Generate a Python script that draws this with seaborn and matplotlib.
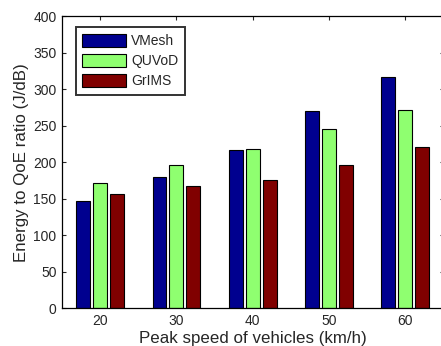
import matplotlib
matplotlib.use("Agg")
import matplotlib.pyplot as plt
import seaborn as sns
import pandas as pd

speeds = ["20", "30", "40", "50", "60"]
schemes = ["VMesh", "QUVoD", "GrIMS"]
vmesh = [147, 179, 216, 270, 317]
quvod = [172, 196, 218, 246, 271]
grims = [156, 167, 175, 196, 221]
colors = ["#00008F", "#8FFF70", "#800000"]

df = pd.DataFrame({
    "speed": speeds * 3,
    "scheme": [s for s in schemes for _ in speeds],
    "value": vmesh + quvod + grims,
})

sns.set_style("white")
plt.rcParams["font.family"] = ["Liberation Sans", "DejaVu Sans"]

fig = plt.figure(figsize=(4.41, 3.46), dpi=100)
ax = fig.add_axes([62 / 441, 1 - 308.3 / 346, (443.5 - 62) / 441, (308.3 - 16) / 346])

sns.barplot(data=df, x="speed", y="value", hue="scheme", order=speeds,
            hue_order=schemes, palette=colors, width=0.667, gap=0.18,
            edgecolor="black", linewidth=0.8, saturation=1, errorbar=None, ax=ax)

ax.set_xlim(-0.5, 4.5)
ax.set_ylim(0, 400)
ax.set_yticks(range(0, 401, 50))
ax.set_xlabel("Peak speed of vehicles (km/h)", fontsize=12.2, labelpad=2)
ax.set_ylabel("Energy to QoE ratio (J/dB)", fontsize=12.2, labelpad=3)
ax.tick_params(direction="in", length=3, width=0.8, labelsize=10,
               top=True, right=True, bottom=True, left=True, pad=4)
for sp in ax.spines.values():
    sp.set_color("black")
    sp.set_linewidth(0.9)

leg = ax.legend(loc="upper left", bbox_to_anchor=(0.036, 0.961), fontsize=10,
                frameon=True, fancybox=False, edgecolor="black",
                handlelength=3.14, handleheight=1.13, handletextpad=0.4,
                labelspacing=0.4, borderpad=0.45, borderaxespad=0)
leg.get_frame().set_linewidth(1.4)

fig.savefig("out.png", dpi=100)
